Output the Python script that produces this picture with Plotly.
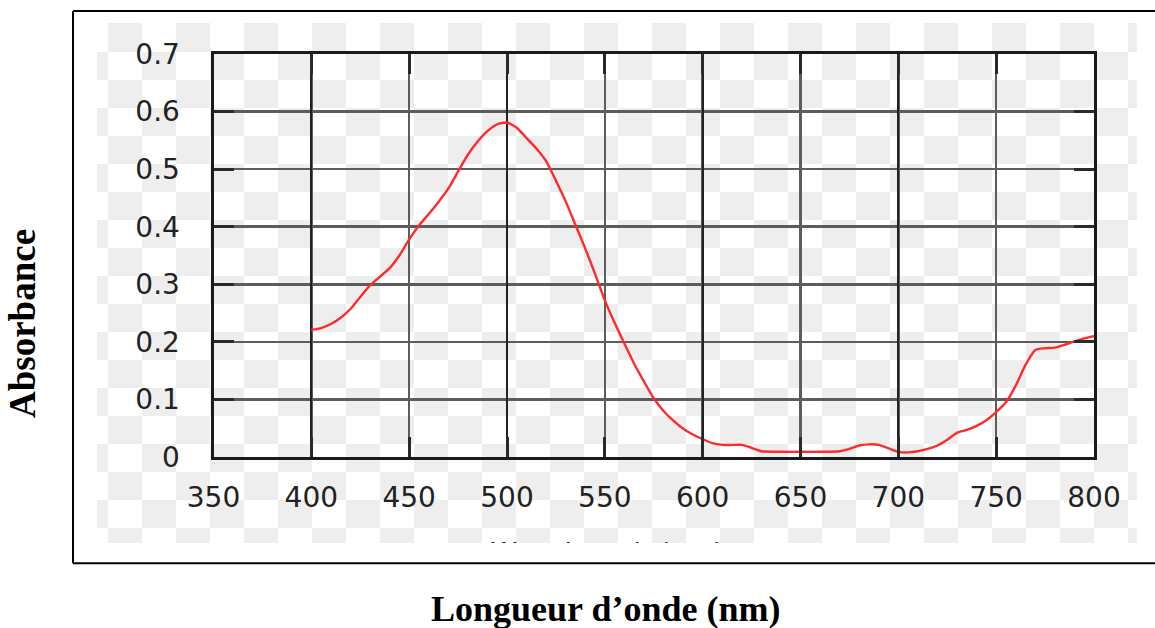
import numpy as np
import plotly.graph_objects as go

# ---- data ----
wavelength_nm = [400, 405, 410, 415, 420, 425, 430, 435, 440, 445, 450, 455, 460, 465, 470,
                 475, 480, 485, 490, 495, 500, 505, 510, 515, 520, 525, 530, 535, 540, 545,
                 550, 555, 560, 565, 570, 575, 580, 585, 590, 595, 600, 605, 610, 615, 620,
                 625, 630, 640, 650, 660, 670, 675, 680, 685, 690, 695, 700, 705, 710, 715,
                 720, 725, 730, 735, 740, 745, 750, 755, 760, 765, 770, 775, 780, 785, 790,
                 795, 800]
absorbance = [0.221, 0.224, 0.231, 0.242, 0.257, 0.278, 0.298, 0.313, 0.328, 0.350, 0.378,
              0.402, 0.422, 0.443, 0.466, 0.496, 0.525, 0.548, 0.566, 0.578, 0.581, 0.572,
              0.554, 0.536, 0.514, 0.480, 0.444, 0.403, 0.362, 0.318, 0.272, 0.233, 0.197,
              0.162, 0.131, 0.102, 0.080, 0.063, 0.049, 0.039, 0.031, 0.024, 0.021, 0.021,
              0.021, 0.016, 0.010, 0.009, 0.009, 0.009, 0.010, 0.014, 0.020, 0.022, 0.021,
              0.015, 0.009, 0.008, 0.010, 0.014, 0.020, 0.030, 0.042, 0.047, 0.054, 0.064,
              0.078, 0.095, 0.124, 0.160, 0.186, 0.189, 0.190, 0.195, 0.201, 0.206, 0.210]
x_ticks = [350, 400, 450, 500, 550, 600, 650, 700, 750, 800]
y_ticks = [0, 0.1, 0.2, 0.3, 0.4, 0.5, 0.6, 0.7]
dark_grid_x = [400, 500, 600, 700]

y_title = "Absorbance"
x_title = "Longueur d’onde (nm)"
cut_label = "Wavelength (nm)"

# ---- layout geometry (pixels) ----
W, H = 1155, 628
L, R, T, B = 97, 18, 23, 85          # plotting region = checkered image region
PW, PH = W - L - R, H - T - B

def px2paper_x(px):
    return (px - L) / PW

def px2paper_y(py):
    return (H - B - py) / PH

# checkered (transparency) background texture
col_edges = [L] + list(range(108, W - R, 34)) + [W - R]
row_edges = [T] + list(range(52, H - B, 28)) + [H - B]
nr, nc = len(row_edges) - 1, len(col_edges) - 1
checker = (np.add.outer(np.arange(nr), np.arange(nc)) % 2).astype(float)

fig = go.Figure()

fig.add_trace(go.Heatmap(
    z=checker, x=col_edges, y=row_edges, xaxis="x", yaxis="y",
    colorscale=[[0, "#ffffff"], [1, "#eeeeee"]], zmin=0, zmax=1,
    showscale=False, hoverinfo="skip", zsmooth=False,
))
# partially cropped label at the bottom of the embedded image
fig.add_trace(go.Scatter(
    x=[607], y=[555], mode="text", text=[cut_label], xaxis="x", yaxis="y",
    textfont=dict(family="DejaVu Sans", size=27, color="#222222"),
    textposition="middle center", cliponaxis=True, hoverinfo="skip", showlegend=False,
))

fig.add_trace(go.Scatter(
    x=wavelength_nm, y=absorbance, xaxis="x2", yaxis="y2", mode="lines",
    line=dict(color="#ff2b2b", width=2.4, shape="spline", smoothing=0.6),
    showlegend=False, hoverinfo="skip",
))

x_dom = [px2paper_x(213.5), px2paper_x(1094)]
y_dom = [px2paper_y(457), px2paper_y(54)]
tick_font = dict(family="DejaVu Sans", size=28, color="#222222")

fig.update_layout(
    width=W, height=H, autosize=False,
    margin=dict(l=L, r=R, t=T, b=B, pad=0, autoexpand=False),
    paper_bgcolor="white", plot_bgcolor="rgba(0,0,0,0)",
    showlegend=False,
    xaxis=dict(domain=[0, 1], range=[L, W - R], visible=False, fixedrange=True,
               automargin=False),
    yaxis=dict(domain=[0, 1], range=[H - B, T], visible=False, fixedrange=True,
               automargin=False),
    xaxis2=dict(
        domain=x_dom, anchor="y2", range=[350, 800], automargin=False,
        tickmode="array", tickvals=x_ticks, ticktext=[str(v) for v in x_ticks],
        showgrid=True, gridcolor="#5c5c5c", gridwidth=2.6,
        showline=True, linecolor="#1a1a1a", linewidth=3, mirror="ticks",
        ticks="inside", ticklen=20, tickwidth=3, tickcolor="#2a2a2a",
        tickfont=tick_font, ticklabelstandoff=13, zeroline=False,
    ),
    xaxis3=dict(
        domain=x_dom, anchor="y2", overlaying="x2", range=[350, 800], automargin=False,
        tickmode="array", tickvals=dark_grid_x, showticklabels=False,
        showgrid=True, gridcolor="#222222", gridwidth=1.8,
        showline=False, ticks="", zeroline=False,
    ),
    yaxis2=dict(
        domain=y_dom, anchor="x2", range=[0, 0.7], automargin=False,
        tickmode="array", tickvals=y_ticks, ticktext=[f"{v:g}" for v in y_ticks],
        showgrid=True, gridcolor="#5c5c5c", gridwidth=2.6,
        showline=True, linecolor="#1a1a1a", linewidth=3, mirror="ticks",
        ticks="inside", ticklen=20, tickwidth=3, tickcolor="#2a2a2a",
        tickfont=tick_font, ticklabelstandoff=25, zeroline=False,
    ),
)

# empty trace to register the overlay axis used for the darker grid lines
fig.add_trace(go.Scatter(x=[], y=[], xaxis="x3", yaxis="y2", showlegend=False))

# outer frame of the figure (right side lies beyond the picture): top, left, bottom
fx0, fx1 = px2paper_x(73), px2paper_x(W)
fy_top, fy_bot = px2paper_y(11), px2paper_y(563.3)
for (a, b, c, d) in [(fx0, fy_top, fx1, fy_top), (fx0, fy_top, fx0, fy_bot),
                     (fx0, fy_bot, fx1, fy_bot)]:
    fig.add_shape(type="line", xref="paper", yref="paper", x0=a, y0=b, x1=c, y1=d,
                  line=dict(color="black", width=2), layer="above")

fig.add_annotation(
    text=f"<b>{y_title}</b>", xref="paper", yref="paper",
    x=px2paper_x(23), y=px2paper_y(324), textangle=-90,
    xanchor="center", yanchor="middle", showarrow=False,
    font=dict(family="Liberation Serif", size=37, color="black"),
)
fig.add_annotation(
    text=f"<b>{x_title}</b>", xref="paper", yref="paper",
    x=px2paper_x(605), y=px2paper_y(609),
    xanchor="center", yanchor="middle", showarrow=False,
    font=dict(family="Liberation Serif", size=36, color="black"),
)

fig.write_html(
    "out.html",
    config={"displayModeBar": False, "responsive": False, "staticPlot": True},
    post_script=(
        "document.body.style.margin='0';document.body.style.padding='0';"
        "document.body.style.overflow='hidden';"
        "document.documentElement.style.overflow='hidden';"
    ),
)
